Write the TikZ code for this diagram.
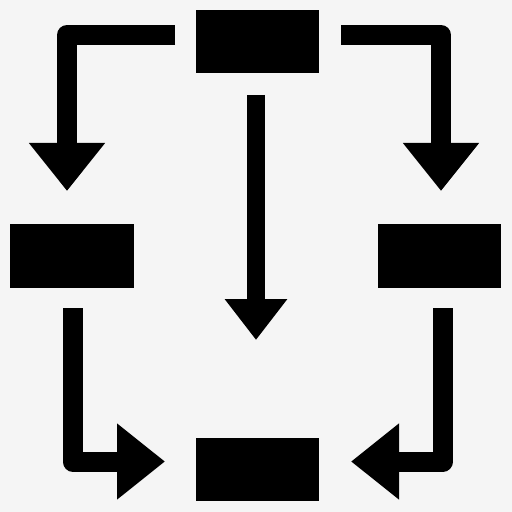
\documentclass[tikz,border=0pt]{standalone}
\usepackage{tikz}
\usepackage{xcolor}
\usetikzlibrary{
    arrows.meta,
    positioning
}
\definecolor{panel}{HTML}{F5F5F5}
\definecolor{ink}{HTML}{000000}
\tikzset{
    % Solid block style
    block/.style={
        rectangle,
        fill=ink,
        draw=none,
        inner sep=0pt,
        minimum width=2.47cm,
        minimum height=1.27cm
    },
    % Bent arrow style
    flow/.style={
        -{Triangle[length=0.96cm, width=1.46cm]},
        line width=0.4cm,
        line join=round,
        color=ink
    },
    % Straight centre arrow style
    mainflow/.style={
        -{Triangle[length=0.82cm, width=1.2cm]},
        line width=0.37cm,
        color=ink
    }
}

\begin{document}
\begin{tikzpicture}[x=0.2mm, y=-0.2mm]
        % Background panel
        \fill[panel] (0,0) rectangle (512,512);
        \useasboundingbox (0,0) rectangle (512,512);

        % Blocks
        \node[block] (top) at (257.5,41.5) {};
        \node[block] (left) at (72,256) {};
        \node[block] (right) at (439.5,256) {};
        \node[block] (bottom) at (257.5,469.5) {};

        % Arrow end points
        \coordinate (tl start) at (175,35);
        \coordinate (tl tip) at (67,191);
        \coordinate (tr start) at (341,35);
        \coordinate (tr tip) at (441,191);
        \coordinate (bl start) at (72.5,308);
        \coordinate (bl tip) at (165,461.5);
        \coordinate (br start) at (443,308);
        \coordinate (br tip) at (351,461.5);
        \coordinate (mid start) at (256,95);
        \coordinate (mid tip) at (256,340);

        % Arrows
        \draw[flow] (tl start) -| (tl tip);
        \draw[flow] (tr start) -| (tr tip);
        \draw[flow] (bl start) |- (bl tip);
        \draw[flow] (br start) |- (br tip);
        \draw[mainflow] (mid start) -- (mid tip);
    \end{tikzpicture}
\end{document}
